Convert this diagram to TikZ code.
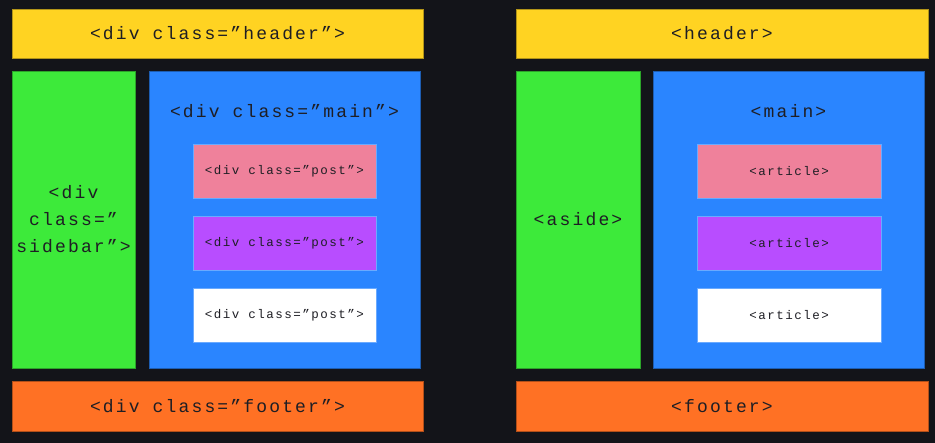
\documentclass[tikz,border=0pt]{standalone}
\usepackage{fontspec}
\newfontfamily\codefont[LetterSpace=12]{Liberation Mono}
\definecolor{bgdark}{HTML}{131419}
\definecolor{hdryellow}{HTML}{FFD322}
\definecolor{sidegreen}{HTML}{3DEA3A}
\definecolor{mainblue}{HTML}{2A85FF}
\definecolor{postpink}{HTML}{EF819B}
\definecolor{postpurple}{HTML}{B84DFF}
\definecolor{footorange}{HTML}{FF7124}
\definecolor{inkdark}{HTML}{1E1E24}
\tikzset{
  blockbox/.style={rectangle, inner sep=0pt, line width=0.8pt, text=inkdark,
    font=\codefont\fontsize{18}{27}\selectfont, align=center},
  postbox/.style={rectangle, inner sep=0pt, line width=0.8pt, text=inkdark,
    font=\codefont\fontsize{12.5}{15}\selectfont,
    minimum height=54pt, draw=mainblue!70!white},
  bandbox/.style={blockbox, minimum height=49pt},
  colbox/.style={blockbox, minimum height=297pt},
}
\begin{document}
\begin{tikzpicture}[x=1pt,y=-1pt]
\fill[bgdark] (0,0) rectangle (935,443);
\useasboundingbox (0,0) rectangle (935,443);
% left: div layout
\node[bandbox, fill=hdryellow, draw=hdryellow!70!black, minimum width=411pt] (hdrL) at (217.5,33.5){<div class=”header”>};
\node[colbox, fill=sidegreen, draw=sidegreen!70!black, minimum width=123pt] (sideL) at (73.5,219.5){<div\\class=”\\sidebar”>};
\node[colbox, fill=mainblue, draw=mainblue!70!black, minimum width=271pt] (mainL) at (284.5,219.5){};
\node[blockbox] (mainLtxt) at (284.5,111){<div class=”main”>};
\node[postbox, fill=postpink, minimum width=183pt] (postLa) at (284.5,171){<div class=”post”>};
\node[postbox, fill=postpurple, minimum width=183pt] (postLb) at (284.5,243){<div class=”post”>};
\node[postbox, fill=white, minimum width=183pt] (postLc) at (284.5,315){<div class=”post”>};
\node[bandbox, fill=footorange, draw=footorange!70!black, minimum width=411pt, minimum height=50pt] (footL) at (217.5,406){<div class=”footer”>};
% right: semantic layout
\node[bandbox, fill=hdryellow, draw=hdryellow!70!black, minimum width=412pt] (hdrR) at (722,33.5){<header>};
\node[colbox, fill=sidegreen, draw=sidegreen!70!black, minimum width=124pt] (asideR) at (578,219.5){<aside>};
\node[colbox, fill=mainblue, draw=mainblue!70!black, minimum width=271pt] (mainR) at (788.5,219.5){};
\node[blockbox] (mainRtxt) at (788.5,111){<main>};
\node[postbox, fill=postpink, minimum width=184pt] (artRa) at (789,171){<article>};
\node[postbox, fill=postpurple, minimum width=184pt] (artRb) at (789,243){<article>};
\node[postbox, fill=white, minimum width=184pt] (artRc) at (789,315){<article>};
\node[bandbox, fill=footorange, draw=footorange!70!black, minimum width=412pt, minimum height=50pt] (footR) at (722,406){<footer>};
\end{tikzpicture}
\end{document}
